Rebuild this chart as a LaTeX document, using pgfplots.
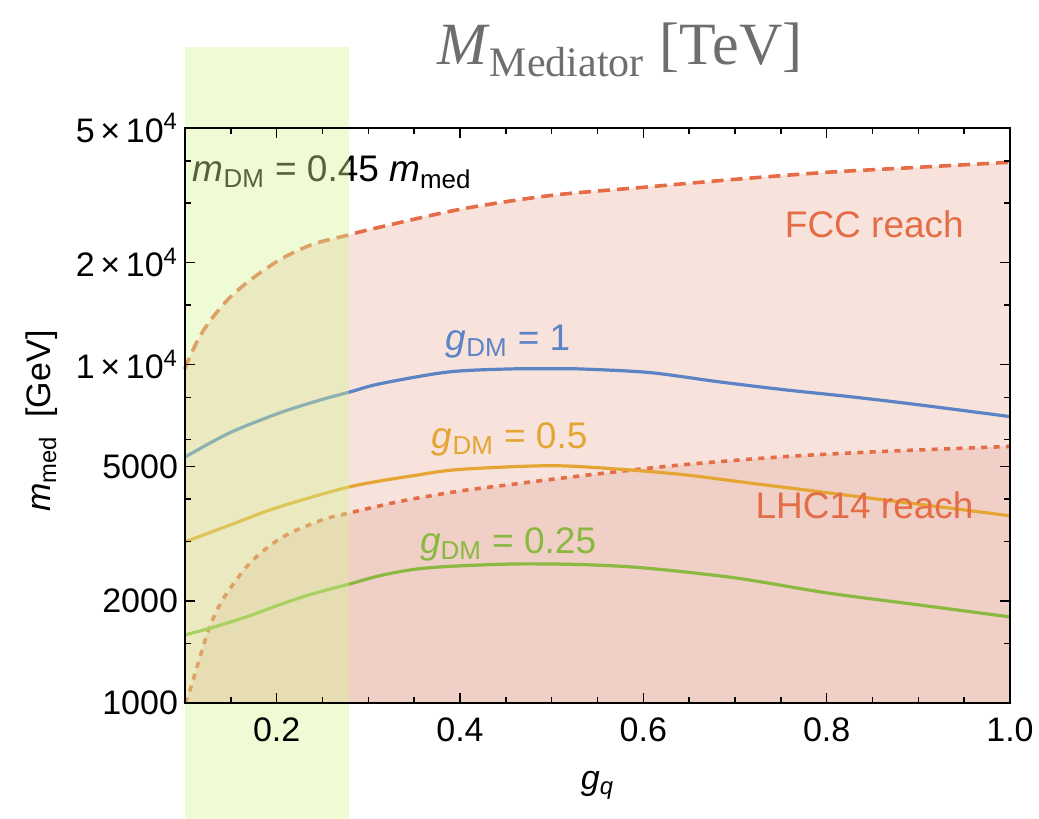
\documentclass[border=0pt]{standalone}
\usepackage{fontspec}
\setmainfont{Liberation Sans}
\newfontfamily\titlefont{Liberation Serif}
\usepackage{pgfplots}
\pgfplotsset{compat=1.18}
\usepgfplotslibrary{fillbetween}

\definecolor{reach}{RGB}{228,108,70}
\definecolor{fccfill}{RGB}{248,226,220}
\definecolor{lhcfill}{RGB}{240,208,198}
\definecolor{band}{RGB}{215,245,150}
\definecolor{cblue}{RGB}{92,132,196}
\definecolor{corange}{RGB}{228,165,50}
\definecolor{cgreen}{RGB}{138,184,64}
\definecolor{titlegray}{RGB}{110,110,110}

\newcommand{\lbl}{\fontsize{18.5}{22}\selectfont}

\begin{document}
\begin{tikzpicture}
\begin{axis}[
  scale only axis, width=412.5pt, height=287.5pt,
  xmin=0.1, xmax=1.0,
  ymode=log, ymin=1000, ymax=50000,
  xtick={0.2,0.4,0.6,0.8,1.0},
  xticklabels={0.2,0.4,0.6,0.8,1.0},
  minor xtick={0.15,0.25,0.3,0.35,0.45,0.5,0.55,0.65,0.7,0.75,0.85,0.9,0.95},
  ytick={1000,2000,5000,10000,20000,50000},
  yticklabels={1000,2000,5000,{1\,×\,10\textsuperscript{4}},{2\,×\,10\textsuperscript{4}},{5\,×\,10\textsuperscript{4}}},
  minor ytick={1500,3000,4000,6000,8000,15000,30000,40000},
  tick align=inside,
  major tick length=5pt, minor tick length=3pt,
  axis line style={line width=1.2pt},
  tick style={black, line width=0.8pt},
  ticklabel style={font=\fontsize{17}{20}\selectfont},
  xticklabel style={yshift=-4pt},
  axis on top, clip=false,
]
% invisible bottom edge for the fills
\addplot[draw=none, name path=bottom] coordinates {(0.1,1000) (1.0,1000)};

% FCC reach (dashed)
\addplot[reach, line width=1.8pt, dash pattern=on 6pt off 3.5pt, smooth, name path=fcc] coordinates {
  (0.1,9700) (0.103,10210) (0.116,12100) (0.131,13870) (0.149,15790)
  (0.172,17840) (0.204,20450) (0.240,22700) (0.280,24200) (0.3,25000)
  (0.4,28750) (0.5,31620) (0.6,33400) (0.7,35260) (0.8,36980) (0.9,38270) (1.0,39600)
};
% LHC14 reach (dotted)
\addplot[reach, line width=1.8pt, dash pattern=on 3pt off 3.2pt, smooth, name path=lhc] coordinates {
  (0.1,1000) (0.1055,1093) (0.125,1622) (0.141,2017) (0.171,2595) (0.207,3098)
  (0.25,3478) (0.28,3648) (0.336,3950) (0.4,4230) (0.458,4430) (0.5,4580)
  (0.567,4810) (0.644,5060) (0.752,5340) (0.861,5537) (1.0,5730)
};
\addplot[fccfill] fill between[of=fcc and bottom];
\addplot[lhcfill] fill between[of=lhc and bottom];

% g_DM = 1
\addplot[cblue, line width=1.6pt, smooth] coordinates {
  (0.1,5330) (0.149,6290) (0.204,7210) (0.247,7850) (0.28,8300) (0.313,8780)
  (0.386,9500) (0.45,9700) (0.498,9720) (0.534,9700) (0.607,9470) (0.68,8910)
  (0.752,8436) (0.825,8040) (0.898,7620) (1.0,7020)
};
% g_DM = 0.5
\addplot[corange, line width=1.6pt, smooth] coordinates {
  (0.1,2993) (0.15,3363) (0.2,3776) (0.28,4355) (0.35,4700) (0.4,4900)
  (0.498,5025) (0.571,4914) (0.644,4727) (0.716,4467) (0.789,4220)
  (0.861,3987) (0.934,3767) (1.0,3574)
};
% g_DM = 0.25
\addplot[cgreen, line width=1.6pt, smooth] coordinates {
  (0.1,1589) (0.131,1675) (0.168,1800) (0.204,1955) (0.240,2105) (0.280,2249)
  (0.313,2380) (0.349,2480) (0.386,2531) (0.458,2575) (0.531,2565) (0.6,2508)
  (0.7,2343) (0.8,2116) (0.9,1950) (1.0,1796)
};

\node[anchor=west, inner sep=0pt, font=\lbl] at (axis cs:0.108,37000)
  {\textit{m}\textsubscript{DM} = 0.45 \textit{m}\textsubscript{med}};
\node[anchor=west, inner sep=0pt, font=\lbl, text=reach] at (axis cs:0.754,25960) {FCC reach};
\node[anchor=west, inner sep=0pt, font=\lbl, text=reach] at (axis cs:0.722,3853) {LHC14 reach};
\node[anchor=west, inner sep=0pt, font=\lbl, text=cblue] at (axis cs:0.384,11700) {\textit{g}\textsubscript{DM} = 1};
\node[anchor=west, inner sep=0pt, font=\lbl, text=corange] at (axis cs:0.369,6000) {\textit{g}\textsubscript{DM} = 0.5};
\node[anchor=west, inner sep=0pt, font=\lbl, text=cgreen] at (axis cs:0.356,2933) {\textit{g}\textsubscript{DM} = 0.25};

% highlighted g_q band
\addplot[draw=none, fill=band, fill opacity=0.4] coordinates {
  (0.1,400) (0.279,400) (0.279,86700) (0.1,86700)
};

\node[font=\titlefont\fontsize{30}{34}\selectfont, text=titlegray] at ([yshift=39pt]rel axis cs:0.527,1)
  {\textit{M}\textsubscript{Mediator} [TeV]};
\node[font=\fontsize{17}{20}\selectfont] at ([yshift=-41pt]rel axis cs:0.5,0) {\textit{g}\textsubscript{\textit{q}}};
\node[font=\fontsize{17}{20}\selectfont, rotate=90] at ([xshift=-71.5pt]rel axis cs:0,0.49)
  {\textit{m}\textsubscript{med}\ \ [GeV]};

\coordinate (ll) at (rel axis cs:0,0);
\coordinate (ur) at (rel axis cs:1,1);
\end{axis}
\pgfresetboundingbox
\path ([shift={(-92.5pt,-57.5pt)}]ll) rectangle ([shift={(14.5pt,64pt)}]ur);
\end{tikzpicture}
\end{document}
